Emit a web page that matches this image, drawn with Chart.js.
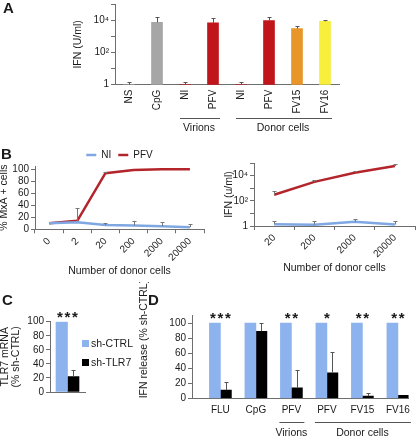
<!DOCTYPE html>
<html>
<head>
<meta charset="utf-8">
<script src="https://cdn.jsdelivr.net/npm/chart.js@4.4.1/dist/chart.umd.min.js"></script>
<style>
  html, body { margin: 0; padding: 0; background: #fff; }
  #fig { position: relative; width: 416px; height: 437px; overflow: hidden; font-family: "Liberation Sans", Arial, sans-serif; color: #1a1a1a; }
  #fig canvas { position: absolute; }
  .tag { position: absolute; font-weight: bold; font-size: 15px; line-height: 15px; }
  .leg { position: absolute; font-size: 10.5px; line-height: 12px; white-space: nowrap; }
  .leg i { display: inline-block; width: 7px; height: 7px; margin-right: 2px; vertical-align: -0.5px; }
</style>
</head>
<body>
<div id="fig">
  <canvas id="chA" width="416" height="144" style="left:0;top:-4px"></canvas>
  <canvas id="chBL" width="214" height="134" style="left:-2px;top:143px"></canvas>
  <canvas id="chBR" width="193" height="119" style="left:223px;top:155px"></canvas>
  <canvas id="chC" width="87" height="100" style="left:-1px;top:300px"></canvas>
  <canvas id="chD" width="278" height="155" style="left:138px;top:282px"></canvas>
  <div id="legC"></div>
  <div class="tag" style="left:3px;top:0px">A</div>
  <div class="tag" style="left:1px;top:146px">B</div>
  <div class="tag" style="left:2px;top:292px">C</div>
  <div class="tag" style="left:148px;top:292px">D</div>
</div>
<script>
// ---- panel A: IFN by stimulus (log scale)
const aLabels = ['NS', 'CpG', 'NI', 'PFV', 'NI', 'PFV', 'FV15', 'FV16'];
const aValues = [1, 7400, 1, 6700, 1, 9300, 3000, 8500];
const aErrHi = [1.4, 16000, 1.4, 13000, 1.4, 16000, 4200, 10000];
const aColors = ['#a6a6a6', '#a6a6a6', '#c0151a', '#c0151a', '#c0151a', '#c0151a', '#e8962a', '#f7ef3c'];
const aGroups = ['Virions', 'Donor cells'];
const aGroupFrom = [2, 4];
const aGroupTo = [3, 7];

const logTicks = [1, 10, 100, 1000, 10000, 100000];
const logTickLabels = ['1', '', '10²', '', '10⁴', ''];
const pctTicks = [0, 20, 40, 60, 80, 100];

// ---- panel B: dose response
const bLeftCells = ['0', '2', '20', '200', '2000', '20000'];
const bLeftNI = [10, 11.5, 7, 6.5, 5, 3.5];
const bLeftNIHi = [null, null, 11, 13, 12, 8];
const bLeftPFV = [10, 14, 93, 98.5, 99.5, 99.5];
const bLeftPFVHi = [null, 36, 95.5, null, null, null];

const bRightCells = ['20', '200', '2000', '20000'];
const bRightNI = [1.4, 1.25, 2.2, 1.3];
const bRightNIHi = [2.6, 2.6, 3.5, 2.6];
const bRightPFV = [300, 3200, 17000, 58000];
const bRightPFVHi = [650, 4700, 24000, 90000];

// ---- panel C: knockdown
const cSeries = ['sh-CTRL', 'sh-TLR7'];
const cColors = ['#8db3ee', '#000000'];
const cCtrl = [100];
const cTLR7 = [22];
const cTLR7Hi = [32];
const cStars = ['***'];

// ---- panel D: IFN release after knockdown
const dLabels = ['FLU', 'CpG', 'PFV', 'PFV', 'FV15', 'FV16'];
const dCtrl = [100, 100, 100, 100, 100, 100];
const dTLR7 = [11, 89, 14, 34, 3, 4];
const dTLR7Hi = [22, 100, 38, 61, 6.5, null];
const dStars = ['***', '', '**', '*', '**', '**'];
const dGroups = ['Virions', 'Donor cells'];
const dGroupFrom = [2, 3];
const dGroupTo = [2, 5];

const AXIS = '#6e6e6e';
const INK = '#1a1a1a';
const FONT = '"Liberation Sans", Arial, sans-serif';
const NI_BLUE = '#7fa7e2';
const PFV_RED = '#b3242b';

Chart.defaults.font.family = FONT;
Chart.defaults.font.size = 10;
Chart.defaults.color = INK;
Chart.defaults.animation = false;
Chart.defaults.responsive = false;
Chart.defaults.devicePixelRatio = 1;
Chart.defaults.plugins.legend.display = false;
Chart.defaults.plugins.tooltip.enabled = false;

const fixW = w => s => { s.width = w; };
const fixH = h => s => { s.height = h; };

// upper error whiskers, read from dataset.errHi
const errorBars = {
  id: 'errorBars',
  afterDatasetsDraw(chart) {
    const ctx = chart.ctx, ys = chart.scales.y;
    chart.data.datasets.forEach((ds, di) => {
      if (!ds.errHi) return;
      const meta = chart.getDatasetMeta(di);
      ctx.save();
      ctx.strokeStyle = ds.errColor || '#555';
      ctx.lineWidth = 1;
      meta.data.forEach((el, i) => {
        const hi = ds.errHi[i];
        if (hi == null) return;
        const x = Math.round(el.x) + 0.5;
        const y1 = Math.round(ys.getPixelForValue(hi)) + 0.5;
        ctx.beginPath();
        ctx.moveTo(x, el.y);
        ctx.lineTo(x, y1);
        ctx.moveTo(x - 2, y1);
        ctx.lineTo(x + 2, y1);
        ctx.stroke();
      });
      ctx.restore();
    });
  }
};

// bracket lines + names under category groups
const groupLabels = {
  id: 'groups',
  afterDraw(chart, args, o) {
    const ctx = chart.ctx, xs = chart.scales.x, base = chart.chartArea.bottom;
    ctx.save();
    ctx.strokeStyle = '#555';
    ctx.lineWidth = 1;
    ctx.fillStyle = INK;
    ctx.font = '10.5px ' + FONT;
    ctx.textAlign = 'center';
    ctx.textBaseline = 'middle';
    o.names.forEach((name, g) => {
      const p0 = xs.getPixelForValue(o.from[g]);
      const p1 = xs.getPixelForValue(o.to[g]);
      const yl = Math.round(base + o.lineDy) + 0.5;
      ctx.beginPath();
      ctx.moveTo(p0 - o.padL, yl);
      ctx.lineTo(p1 + o.padR, yl);
      ctx.stroke();
      ctx.fillText(name, (p0 + p1) / 2, base + o.textDy);
    });
    ctx.restore();
  }
};

// significance asterisks over each category
const starMarks = {
  id: 'stars',
  afterDraw(chart, args, o) {
    const ctx = chart.ctx, xs = chart.scales.x;
    const y = chart.chartArea.top + o.dy + o.size * 0.58;
    ctx.save();
    ctx.fillStyle = INK;
    ctx.font = 'bold ' + o.size + 'px ' + FONT;
    ctx.textAlign = 'center';
    ctx.textBaseline = 'alphabetic';
    o.marks.forEach((m, i) => {
      const cx = xs.getPixelForValue(i);
      for (let k = 0; k < m.length; k++) {
        ctx.fillText('*', cx + (k - (m.length - 1) / 2) * o.pitch, y);
      }
    });
    ctx.restore();
  }
};

function yAxis(title, width) {
  return {
    afterFit: fixW(width),
    border: { color: AXIS },
    grid: { drawOnChartArea: false, color: AXIS, tickLength: 4 },
    ticks: { padding: 2, autoSkip: false },
    title: { display: true, text: title, padding: 0, font: { size: 10.5 } }
  };
}

function logY(title, width) {
  return Object.assign(yAxis(title, width), {
    type: 'logarithmic', min: 1, max: 100000,
    afterBuildTicks: s => { s.ticks = logTicks.map(v => ({ value: v })); },
    ticks: { padding: 2, autoSkip: false, callback: (v, i) => logTickLabels[i] }
  });
}

function linY(title, width, max) {
  return Object.assign(yAxis(title, width), {
    min: 0, max: max,
    afterBuildTicks: s => { s.ticks = pctTicks.map(v => ({ value: v })); }
  });
}

// A
new Chart(document.getElementById('chA'), {
  type: 'bar',
  data: {
    labels: aLabels,
    datasets: [{ data: aValues, errHi: aErrHi, backgroundColor: aColors, barThickness: 11 }]
  },
  options: {
    layout: { padding: { left: 72, right: 77, top: 7, bottom: 0 } },
    scales: {
      x: {
        afterFit: fixH(55.3),
        border: { color: AXIS },
        grid: { display: false, drawTicks: false },
        ticks: { minRotation: 90, maxRotation: 90, padding: 5, autoSkip: false }
      },
      y: logY('IFN (U/ml)', 43)
    },
    plugins: {
      groups: { names: aGroups, from: aGroupFrom, to: aGroupTo, lineDy: 33, textDy: 43, padL: 5, padR: 7 }
    }
  },
  plugins: [errorBars, groupLabels]
});

const lineSet = (label, data, hi, color) => ({
  label: label, data: data, errHi: hi, errColor: '#777',
  borderColor: color, backgroundColor: color, borderWidth: 2.5,
  pointRadius: 0, pointStyle: 'line', tension: 0
});

const cellsX = h => ({
  offset: true,
  afterFit: fixH(h),
  border: { color: AXIS },
  grid: { offset: true, drawOnChartArea: false, color: AXIS, tickLength: 4 },
  ticks: { minRotation: 45, maxRotation: 45, padding: 2, autoSkip: false },
  title: { display: true, text: 'Number of donor cells', padding: 0, font: { size: 10.5 } }
});

// B left
new Chart(document.getElementById('chBL'), {
  type: 'line',
  data: {
    labels: bLeftCells,
    datasets: [
      lineSet('NI', bLeftNI, bLeftNIHi, NI_BLUE),
      lineSet('PFV', bLeftPFV, bLeftPFVHi, PFV_RED)
    ]
  },
  options: {
    layout: { padding: { left: 0, right: 8, top: 0, bottom: 0 } },
    scales: {
      x: cellsX(47.7),
      y: linY('% MxA + cells', 37, 105)
    },
    plugins: {
      legend: {
        display: true, position: 'top', fullSize: false, maxHeight: 23,
        labels: { usePointStyle: true, pointStyleWidth: 10, padding: 7, font: { size: 10 } }
      }
    }
  },
  plugins: [errorBars]
});

// B right
new Chart(document.getElementById('chBR'), {
  type: 'line',
  data: {
    labels: bRightCells,
    datasets: [
      lineSet('NI', bRightNI, bRightNIHi, NI_BLUE),
      lineSet('PFV', bRightPFV, bRightPFVHi, PFV_RED)
    ]
  },
  options: {
    layout: { padding: { left: 0, right: 1, top: 7, bottom: 0 } },
    scales: {
      x: cellsX(48),
      y: logY('IFN (u/ml)', 31)
    }
  },
  plugins: [errorBars]
});

// C
new Chart(document.getElementById('chC'), {
  type: 'bar',
  data: {
    labels: [''],
    datasets: [
      { label: cSeries[0], data: cCtrl, backgroundColor: cColors[0], barThickness: 11.5 },
      { label: cSeries[1], data: cTLR7, errHi: cTLR7Hi, backgroundColor: cColors[1], barThickness: 11.5 }
    ]
  },
  options: {
    layout: { padding: { left: 0, right: 1, top: 21.7, bottom: 1 } },
    scales: {
      x: {
        afterFit: fixH(0),
        border: { color: AXIS },
        grid: { display: false, drawTicks: false },
        ticks: { display: false }
      },
      y: Object.assign(linY('', 51, 100), {
        title: { display: true, text: ['TLR7 mRNA', '(% sh-CTRL)'], padding: 0, font: { size: 10.5, lineHeight: 1.1 } }
      })
    },
    plugins: { stars: { marks: cStars, dy: -8.7, size: 15, pitch: 7.5 } }
  },
  plugins: [errorBars, starMarks]
});

// C legend
const legC = document.getElementById('legC');
cSeries.forEach((name, k) => {
  const d = document.createElement('div');
  d.className = 'leg';
  d.style.left = '82px';
  d.style.top = (336.5 + k * 19.2) + 'px';
  d.innerHTML = '<i style="background:' + cColors[k] + '"></i>' + name;
  legC.appendChild(d);
});

// D
new Chart(document.getElementById('chD'), {
  type: 'bar',
  data: {
    datasets: [
      { label: cSeries[0], data: dCtrl.map((v, i) => ({ x: i, y: v })), backgroundColor: cColors[0], barThickness: 11 },
      { label: cSeries[1], data: dTLR7.map((v, i) => ({ x: i, y: v })), errHi: dTLR7Hi, backgroundColor: cColors[1], barThickness: 11 }
    ]
  },
  options: {
    layout: { padding: { left: 0, right: 3, top: 33.5, bottom: 0 } },
    scales: {
      x: {
        type: 'linear', min: -0.8, max: 5.3, offset: false,
        afterBuildTicks: s => { s.ticks = dLabels.map((_, i) => ({ value: i })); },
        afterFit: fixH(38.7),
        border: { color: AXIS },
        grid: { display: false, drawTicks: false },
        ticks: { callback: (v, i) => dLabels[i], autoSkip: false, maxRotation: 0, padding: 6 }
      },
      y: Object.assign(linY('', 54, 110), {
        title: { display: true, text: 'IFN release (% sh-CTRL)', align: 'start', padding: 0, font: { size: 10.5 } }
      })
    },
    plugins: {
      groups: { names: dGroups, from: dGroupFrom, to: dGroupTo, lineDy: 23.4, textDy: 34.7, padL: 12, padR: 13 },
      stars: { marks: dStars, dy: -1.5, size: 15, pitch: 7.5 }
    }
  },
  plugins: [errorBars, groupLabels, starMarks]
});
</script>
</body>
</html>
